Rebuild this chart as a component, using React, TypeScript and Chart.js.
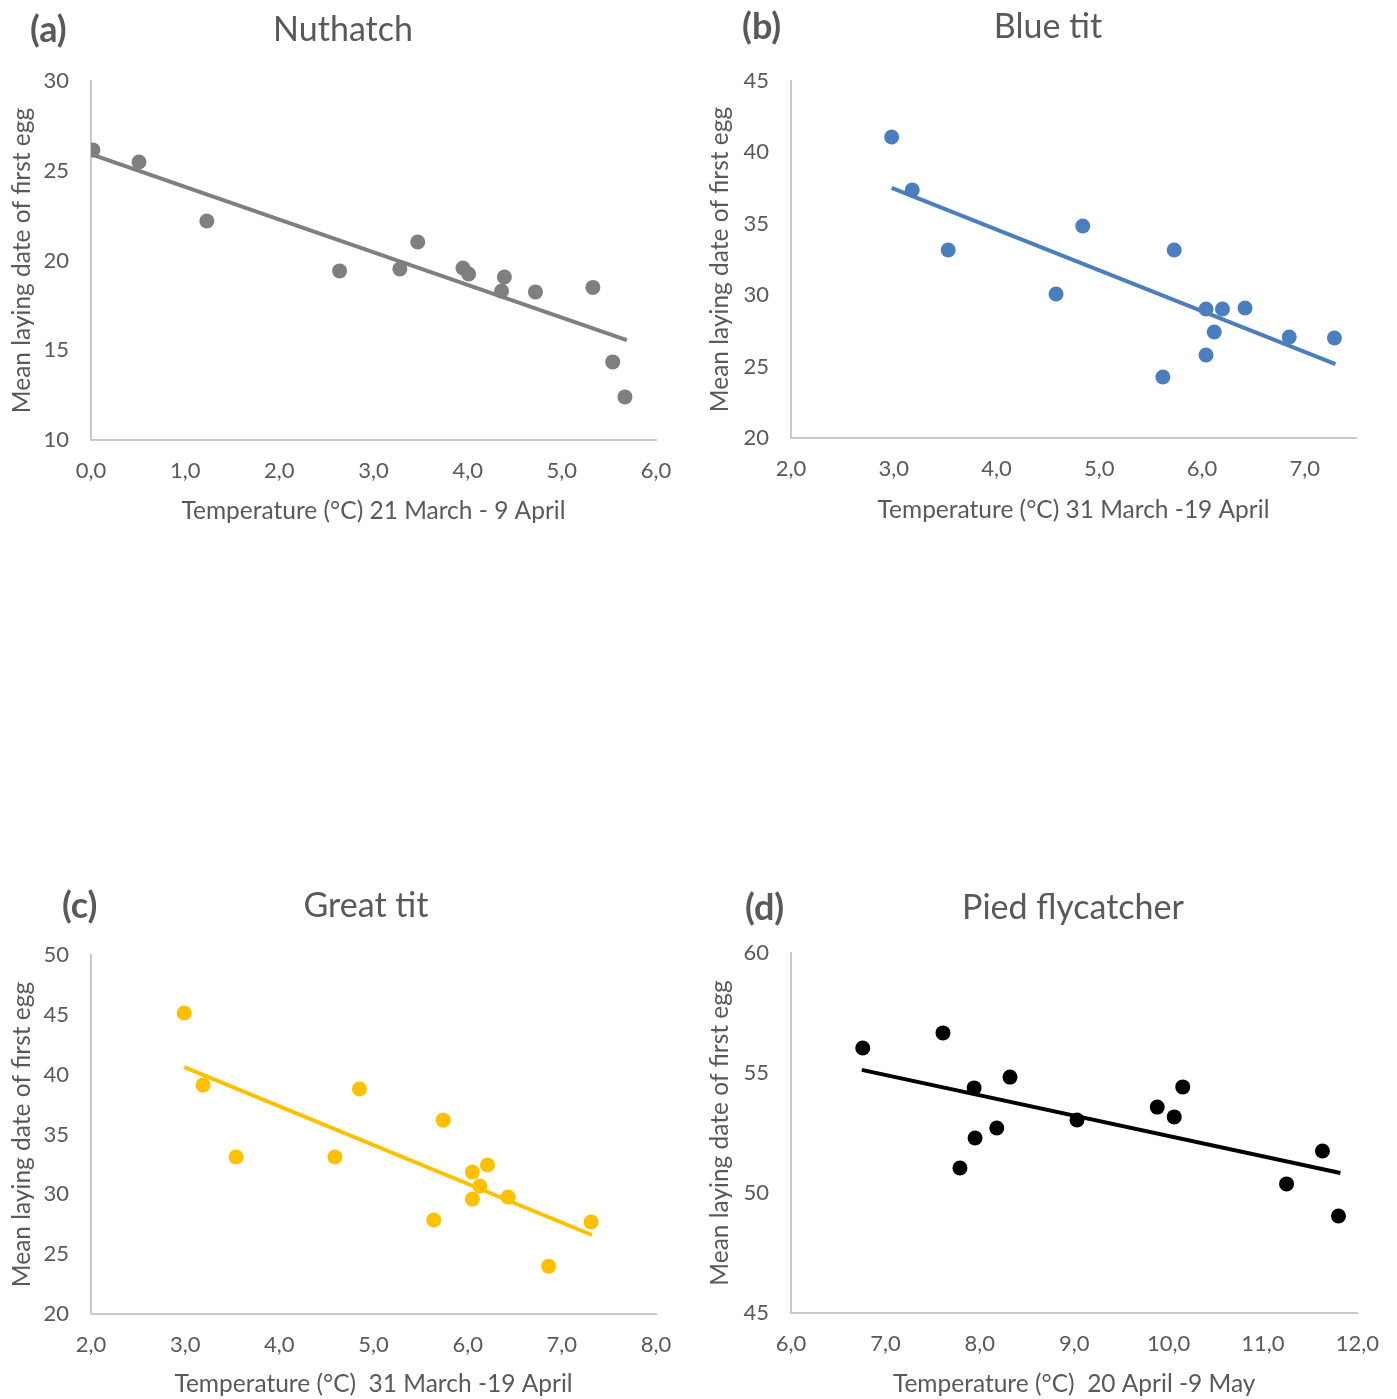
import React, { useEffect, useRef } from "react";
import { Chart, registerables } from "chart.js";

Chart.register(...registerables);

// ---------- Data ----------
// (a) Nuthatch
const nuthatchTemp = [0.02, 0.51, 1.23, 2.64, 3.28, 3.47, 3.95, 4.01, 4.39, 4.36, 4.72, 5.33, 5.54, 5.67];
const nuthatchDate = [26.16, 25.49, 22.2, 19.42, 19.53, 21.03, 19.58, 19.25, 19.08, 18.3, 18.25, 18.5, 14.35, 12.4];
const nuthatchTrendTemp = [0.02, 5.69];
const nuthatchTrendDate = [25.88, 15.57];

// (b) Blue tit
const blueTitTemp = [2.98, 3.18, 3.53, 4.58, 4.84, 5.73, 5.62, 6.04, 6.04, 6.12, 6.2, 6.42, 6.85, 7.29];
const blueTitDate = [41.08, 37.37, 33.17, 30.08, 34.85, 33.17, 24.27, 29.03, 25.81, 27.42, 29.03, 29.1, 27.07, 27.0];
const blueTitTrendTemp = [2.98, 7.3];
const blueTitTrendDate = [37.51, 25.18];

// (c) Great tit
const greatTitTemp = [2.99, 3.19, 3.54, 4.59, 4.85, 5.74, 5.64, 6.05, 6.05, 6.13, 6.21, 6.43, 6.86, 7.31];
const greatTitDate = [45.15, 39.13, 33.12, 33.12, 38.8, 36.2, 27.85, 31.86, 29.6, 30.7, 32.45, 29.77, 24.0, 27.69];
const greatTitTrendTemp = [2.99, 7.32];
const greatTitTrendDate = [40.63, 26.6];

// (d) Pied flycatcher
const piedTemp = [6.76, 7.61, 7.94, 7.95, 7.79, 8.18, 8.32, 9.03, 9.88, 10.06, 10.15, 11.25, 11.63, 11.8];
const piedDate = [56.04, 56.67, 54.38, 52.29, 51.04, 52.71, 54.83, 53.04, 53.58, 53.17, 54.42, 50.38, 51.75, 49.04];
const piedTrendTemp = [6.75, 11.82];
const piedTrendDate = [55.13, 50.83];

// Axis ranges / ticks
const nuthatchXRange = [0, 6];
const nuthatchYRange = [10, 30];
const blueTitXRange = [2, 7.5];
const blueTitYRange = [20, 45];
const greatTitXRange = [2, 8];
const greatTitYRange = [20, 50];
const piedXRange = [6, 12];
const piedYRange = [45, 60];
const xStep = 1;
const yStep = 5;

const panelLabels = ["(a)", "(b)", "(c)", "(d)"];
const panelTitles = ["Nuthatch", "Blue tit", "Great tit", "Pied flycatcher"];
const xTitles = [
  "Temperature (°C) 21 March - 9 April",
  "Temperature (°C) 31 March -19 April",
  "Temperature (°C)  31 March -19 April",
  "Temperature (°C)  20 April -9 May",
];
const yTitle = "Mean laying date of first egg";

// ---------- Styling ----------
const FONT = "Lato, 'Open Sans', 'Liberation Sans', sans-serif";
const TEXT = "#595959";
const AXIS = "#C9C9C9";

type PanelProps = {
  left: number;
  top: number;
  width: number;
  height: number;
  plotLeft: number;
  plotRight: number;
  plotTop: number;
  plotBottom: number;
  label: string;
  labelX: number;
  headY: number;
  title: string;
  titleX: number;
  xTitle: string;
  xTitlePad: number;
  color: string;
  xs: number[];
  ys: number[];
  tx: number[];
  ty: number[];
  xRange: number[];
  yRange: number[];
};

function Panel(p: PanelProps) {
  const ref = useRef<HTMLCanvasElement | null>(null);
  useEffect(() => {
    if (!ref.current) return;
    const headingPlugin = {
      id: "heading" + p.label,
      afterDraw(chart: any) {
        const ctx = chart.ctx;
        ctx.save();
        ctx.fillStyle = TEXT;
        ctx.textBaseline = "middle";
        ctx.textAlign = "left";
        ctx.font = `bold 36px ${FONT}`;
        ctx.fillText(p.label, p.labelX, p.headY);
        ctx.textAlign = "center";
        ctx.font = `34px ${FONT}`;
        ctx.fillText(p.title, p.titleX, p.headY);
        ctx.restore();
      },
    };
    const xAxisHeight = p.height - p.plotBottom;
    const chart = new Chart(ref.current, {
      type: "scatter",
      data: {
        datasets: [
          {
            type: "line",
            data: p.tx.map((x, i) => ({ x, y: p.ty[i] })),
            borderColor: p.color,
            borderWidth: 4,
            pointRadius: 0,
            fill: false,
            order: 2,
          } as any,
          {
            type: "scatter",
            data: p.xs.map((x, i) => ({ x, y: p.ys[i] })),
            backgroundColor: p.color,
            borderWidth: 0,
            pointRadius: 7.5,
            order: 1,
          },
        ],
      },
      options: {
        animation: false,
        responsive: false,
        maintainAspectRatio: false,
        layout: {
          padding: { left: 0, right: p.width - p.plotRight, top: p.plotTop, bottom: 0 },
        },
        plugins: { legend: { display: false }, tooltip: { enabled: false }, title: { display: false } },
        scales: {
          x: {
            type: "linear",
            min: p.xRange[0],
            max: p.xRange[1],
            grid: { display: false, drawTicks: false },
            border: { display: true, color: AXIS, width: 2 },
            ticks: {
              stepSize: xStep,
              padding: 18,
              maxRotation: 0,
              autoSkip: false,
              color: TEXT,
              font: { family: FONT, size: 22 },
              callback: (v: any) => Number(v).toFixed(1).replace(".", ","),
            },
            afterBuildTicks: (axis: any) => {
              const t: any[] = [];
              for (let v = Math.ceil(p.xRange[0]); v <= p.xRange[1] + 1e-9; v += xStep) t.push({ value: v });
              axis.ticks = t;
            },
            afterFit: (axis: any) => {
              axis.height = xAxisHeight;
            },
            title: {
              display: true,
              text: p.xTitle,
              color: TEXT,
              font: { family: FONT, size: 24.5 },
              padding: { top: 0, bottom: p.xTitlePad },
            },
          },
          y: {
            type: "linear",
            min: p.yRange[0],
            max: p.yRange[1],
            grid: { display: false, drawTicks: false },
            border: { display: true, color: AXIS, width: 2 },
            ticks: {
              stepSize: yStep,
              padding: 22,
              color: TEXT,
              font: { family: FONT, size: 22 },
            },
            afterFit: (axis: any) => {
              axis.width = p.plotLeft;
            },
            title: {
              display: true,
              text: yTitle,
              color: TEXT,
              font: { family: FONT, size: 24.5 },
              padding: { top: 7, bottom: 0 },
            },
          },
        },
      },
      plugins: [headingPlugin],
    } as any);
    return () => chart.destroy();
  }, []);
  return (
    <div style={{ position: "absolute", left: p.left, top: p.top, width: p.width, height: p.height }}>
      <canvas ref={ref} width={p.width} height={p.height} style={{ width: p.width, height: p.height, display: "block" }} />
    </div>
  );
}

export default function App() {
  return (
    <div style={{ position: "absolute", left: 0, top: 0, width: 1397, height: 1399, background: "#ffffff" }}>
      <Panel
        left={0} top={0} width={698} height={540}
        plotLeft={91} plotRight={656} plotTop={81} plotBottom={440}
        label={panelLabels[0]} labelX={30} headY={30}
        title={panelTitles[0]} titleX={343}
        xTitle={xTitles[0]} xTitlePad={14}
        color="#7F7F7F"
        xs={nuthatchTemp} ys={nuthatchDate} tx={nuthatchTrendTemp} ty={nuthatchTrendDate}
        xRange={nuthatchXRange} yRange={nuthatchYRange}
      />
      <Panel
        left={698} top={0} width={699} height={540}
        plotLeft={93} plotRight={658} plotTop={81} plotBottom={438}
        label={panelLabels[1]} labelX={44} headY={27}
        title={panelTitles[1]} titleX={350}
        xTitle={xTitles[1]} xTitlePad={15}
        color="#4A7EBF"
        xs={blueTitTemp} ys={blueTitDate} tx={blueTitTrendTemp} ty={blueTitTrendDate}
        xRange={blueTitXRange} yRange={blueTitYRange}
      />
      <Panel
        left={0} top={870} width={698} height={529}
        plotLeft={91} plotRight={656} plotTop={85} plotBottom={444}
        label={panelLabels[2]} labelX={62} headY={36}
        title={panelTitles[2]} titleX={366}
        xTitle={xTitles[2]} xTitlePad={0}
        color="#FFC000"
        xs={greatTitTemp} ys={greatTitDate} tx={greatTitTrendTemp} ty={greatTitTrendDate}
        xRange={greatTitXRange} yRange={greatTitYRange}
      />
      <Panel
        left={698} top={870} width={699} height={529}
        plotLeft={93} plotRight={660} plotTop={83} plotBottom={443}
        label={panelLabels[3]} labelX={47} headY={38}
        title={panelTitles[3]} titleX={375}
        xTitle={xTitles[3]} xTitlePad={0}
        color="#000000"
        xs={piedTemp} ys={piedDate} tx={piedTrendTemp} ty={piedTrendDate}
        xRange={piedXRange} yRange={piedYRange}
      />
    </div>
  );
}
